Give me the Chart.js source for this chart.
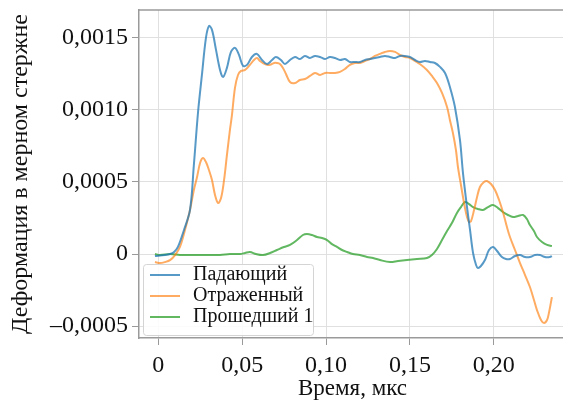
<!DOCTYPE html>
<html lang="ru">
<head>
<meta charset="UTF-8">
<title>Деформация в мерном стержне</title>
<style>
  html, body { margin: 0; padding: 0; background: #fff; overflow: hidden; }
  .grafico { width: 566px; height: 408px; }
</style>
</head>
<body>
<div class="grafico"><canvas id="grafico" width="566" height="408"></canvas></div>
<script src="https://cdn.jsdelivr.net/npm/chart.js"></script>
<script>
// Падающий
const tPad = [-0.0020, 0.0040, 0.0070, 0.0094, 0.0117, 0.0153, 0.0189, 0.0212, 0.0237, 0.0260, 0.0284, 0.0302, 0.0320, 0.0344, 0.0368, 0.0386, 0.0409, 0.0433, 0.0457, 0.0481, 0.0505, 0.0529, 0.0558, 0.0588, 0.0618, 0.0648, 0.0678, 0.0701, 0.0731, 0.0755, 0.0785, 0.0815, 0.0844, 0.0874, 0.0904, 0.0934, 0.0964, 0.0994, 0.1023, 0.1053, 0.1083, 0.1113, 0.1142, 0.1172, 0.1202, 0.1232, 0.1262, 0.1291, 0.1321, 0.1351, 0.1381, 0.1411, 0.1440, 0.1470, 0.1500, 0.1530, 0.1559, 0.1589, 0.1619, 0.1649, 0.1679, 0.1709, 0.1738, 0.1768, 0.1798, 0.1816, 0.1840, 0.1858, 0.1876, 0.1894, 0.1905, 0.1923, 0.1947, 0.1971, 0.1995, 0.2019, 0.2048, 0.2072, 0.2096, 0.2126, 0.2156, 0.2186, 0.2215, 0.2245, 0.2275, 0.2305, 0.2334, 0.2346];
const vPad = [-0.000014, -0.000007, 0, 0.000014, 0.000049, 0.000167, 0.000306, 0.000618, 0.000986, 0.001243, 0.0015, 0.001583, 0.001556, 0.001417, 0.001278, 0.001229, 0.001292, 0.001403, 0.001431, 0.001382, 0.001306, 0.001313, 0.001368, 0.001389, 0.001347, 0.001319, 0.001347, 0.001368, 0.001347, 0.001319, 0.001347, 0.001368, 0.001354, 0.001375, 0.001361, 0.001375, 0.001368, 0.001354, 0.001368, 0.001361, 0.001347, 0.001354, 0.001333, 0.001333, 0.001333, 0.001347, 0.001354, 0.001361, 0.001368, 0.001375, 0.001368, 0.001361, 0.001375, 0.001375, 0.001368, 0.001347, 0.001333, 0.00134, 0.001333, 0.001326, 0.001299, 0.001257, 0.00116, 0.001021, 0.000792, 0.000562, 0.000326, 0.000167, 0.000007, -0.000076, -0.000097, -0.000083, -0.000042, 0.000028, 0.000049, 0.000021, -0.000021, -0.000035, -0.000035, -0.000014, -0.000007, -0.000021, -0.000021, -0.000007, -0.000007, -0.000021, -0.000021, -0.000014];

// Отраженный
const tOtr = [-0.0020, 0.0010, 0.0040, 0.0070, 0.0100, 0.0129, 0.0159, 0.0189, 0.0212, 0.0231, 0.0249, 0.0266, 0.0284, 0.0302, 0.0320, 0.0338, 0.0356, 0.0374, 0.0392, 0.0409, 0.0427, 0.0439, 0.0457, 0.0475, 0.0493, 0.0517, 0.0546, 0.0570, 0.0588, 0.0606, 0.0624, 0.0648, 0.0666, 0.0690, 0.0707, 0.0725, 0.0743, 0.0761, 0.0785, 0.0815, 0.0844, 0.0874, 0.0904, 0.0934, 0.0964, 0.0994, 0.1023, 0.1053, 0.1083, 0.1113, 0.1142, 0.1172, 0.1202, 0.1232, 0.1262, 0.1291, 0.1321, 0.1351, 0.1381, 0.1411, 0.1440, 0.1470, 0.1500, 0.1530, 0.1559, 0.1601, 0.1631, 0.1661, 0.1691, 0.1721, 0.1738, 0.1756, 0.1774, 0.1786, 0.1804, 0.1816, 0.1828, 0.1840, 0.1852, 0.1864, 0.1882, 0.1900, 0.1917, 0.1941, 0.1959, 0.1983, 0.2007, 0.2031, 0.2054, 0.2078, 0.2096, 0.2126, 0.2156, 0.2186, 0.2215, 0.2239, 0.2257, 0.2281, 0.2299, 0.2317, 0.2328, 0.2346];
const vOtr = [-0.000056, -0.000063, -0.000056, -0.000042, -0.000007, 0.000049, 0.000167, 0.000306, 0.000444, 0.000535, 0.000632, 0.000667, 0.000639, 0.000583, 0.000514, 0.00041, 0.000354, 0.000389, 0.000514, 0.000687, 0.000861, 0.000965, 0.001153, 0.001243, 0.001271, 0.001278, 0.001313, 0.001347, 0.001361, 0.00134, 0.001326, 0.001313, 0.001313, 0.001326, 0.001326, 0.001319, 0.001292, 0.00125, 0.001194, 0.001187, 0.001208, 0.001215, 0.001236, 0.001257, 0.001243, 0.001257, 0.001257, 0.001257, 0.001264, 0.001285, 0.001313, 0.001326, 0.001326, 0.00134, 0.001354, 0.001375, 0.001389, 0.001403, 0.00141, 0.001403, 0.001382, 0.001368, 0.001361, 0.00134, 0.001319, 0.001278, 0.001236, 0.001187, 0.001118, 0.001021, 0.000931, 0.00084, 0.000722, 0.000604, 0.000479, 0.000396, 0.000319, 0.000257, 0.000222, 0.000229, 0.000306, 0.000396, 0.000465, 0.0005, 0.000507, 0.000486, 0.000444, 0.000375, 0.000292, 0.000187, 0.000118, 0.000028, -0.000063, -0.000146, -0.000229, -0.000319, -0.000389, -0.000458, -0.000479, -0.000458, -0.00041, -0.000299];

// Прошедший 1
const tPro = [-0.0020, 0.0010, 0.0070, 0.0129, 0.0189, 0.0249, 0.0308, 0.0368, 0.0427, 0.0487, 0.0517, 0.0546, 0.0582, 0.0624, 0.0666, 0.0707, 0.0749, 0.0785, 0.0827, 0.0862, 0.0886, 0.0916, 0.0946, 0.0976, 0.1006, 0.1035, 0.1065, 0.1095, 0.1125, 0.1160, 0.1202, 0.1244, 0.1280, 0.1321, 0.1381, 0.1429, 0.1482, 0.1542, 0.1601, 0.1631, 0.1661, 0.1691, 0.1721, 0.1750, 0.1780, 0.1804, 0.1828, 0.1852, 0.1876, 0.1905, 0.1935, 0.1965, 0.1995, 0.2025, 0.2054, 0.2084, 0.2114, 0.2144, 0.2174, 0.2197, 0.2215, 0.2239, 0.2257, 0.2287, 0.2317, 0.2346];
const vPro = [0, -0.000007, 0, -0.000007, -0.000007, -0.000007, -0.000007, -0.000007, 0, 0, 0.000007, 0.000014, 0, -0.000007, 0.000007, 0.000028, 0.000049, 0.000063, 0.000097, 0.000132, 0.000139, 0.000132, 0.000118, 0.000111, 0.000097, 0.000069, 0.000049, 0.000028, 0.000014, 0, -0.000007, -0.000021, -0.000028, -0.000042, -0.000056, -0.000049, -0.000042, -0.000035, -0.000028, -0.000007, 0.000035, 0.000097, 0.00016, 0.000215, 0.000285, 0.000326, 0.000361, 0.000347, 0.000326, 0.000313, 0.000306, 0.000326, 0.00034, 0.000319, 0.000292, 0.000271, 0.000257, 0.000264, 0.000271, 0.000243, 0.000201, 0.00016, 0.000118, 0.000083, 0.000063, 0.000056];

const seriesNames = ['Падающий', 'Отраженный', 'Прошедший 1'];
const xTicks = [0, 0.05, 0.10, 0.15, 0.20];
const xTickLabels = ['0', '0,05', '0,10', '0,15', '0,20'];
const yTicks = [-0.0005, 0, 0.0005, 0.0010, 0.0015];
const yTickLabels = ['\u20130,0005', '0', '0,0005', '0,0010', '0,0015'];

const fonte = '"Liberation Serif", "Times New Roman", serif';

function pontos(t, v) {
  return t.map((x, i) => ({ x: x, y: v[i] }));
}

// moldura superior
const moldura = {
  id: 'moldura',
  afterDraw(chart) {
    const a = chart.chartArea, ctx = chart.ctx;
    ctx.save();
    ctx.strokeStyle = '#9a9a9a';
    ctx.lineWidth = 1.5;
    ctx.beginPath();
    ctx.moveTo(a.left, a.top);
    ctx.lineTo(a.right, a.top);
    ctx.stroke();
    ctx.restore();
  }
};

// legenda dentro da area do grafico (canto inferior esquerdo)
const legendaDentro = {
  id: 'legendaDentro',
  afterDatasetsDraw(chart) {
    const a = chart.chartArea, ctx = chart.ctx;
    const x = a.left + 4, y = a.bottom - 74, w = 170, h = 71;
    ctx.save();
    ctx.fillStyle = 'rgba(255,255,255,0.85)';
    ctx.strokeStyle = '#d4d4d4';
    ctx.lineWidth = 1;
    ctx.beginPath();
    ctx.roundRect(x + 0.5, y + 0.5, w, h, 3);
    ctx.fill();
    ctx.stroke();
    ctx.font = '20px ' + fonte;
    ctx.textBaseline = 'middle';
    chart.data.datasets.forEach(function (ds, i) {
      const yy = y + 11 + i * 21;
      ctx.strokeStyle = ds.borderColor;
      ctx.lineWidth = 2;
      ctx.beginPath();
      ctx.moveTo(x + 7, yy);
      ctx.lineTo(x + 37, yy);
      ctx.stroke();
      ctx.fillStyle = '#111';
      ctx.fillText(ds.label, x + 50, yy);
    });
    ctx.restore();
  }
};

const ctx = document.getElementById('grafico');
new Chart(ctx, {
  type: 'line',
  data: {
    datasets: [
      { label: seriesNames[0], data: pontos(tPad, vPad), borderColor: 'rgba(31,119,180,0.75)' },
      { label: seriesNames[1], data: pontos(tOtr, vOtr), borderColor: 'rgba(255,127,14,0.65)' },
      { label: seriesNames[2], data: pontos(tPro, vPro), borderColor: 'rgba(44,160,44,0.75)' }
    ]
  },
  options: {
    responsive: false,
    animation: false,
    layout: { padding: { top: 10, left: 0, right: 0, bottom: 0 } },
    elements: {
      point: { radius: 0 },
      line: { borderWidth: 2, tension: 0.35 }
    },
    plugins: {
      legend: { display: false },
      tooltip: { enabled: false }
    },
    scales: {
      x: {
        type: 'linear',
        min: -0.0115,
        max: 0.243,
        afterFit: function (s) { s.height = 70; s.paddingLeft = 0; s.paddingRight = 0; },
        afterBuildTicks: function (s) { s.ticks = xTicks.map(v => ({ value: v })); },
        grid: { color: '#e0e0e0', tickColor: '#9a9a9a', tickLength: 7, lineWidth: 1 },
        border: { color: '#9a9a9a', width: 1.5 },
        ticks: {
          color: '#111',
          font: { family: fonte, size: 24 },
          padding: 6,
          maxRotation: 0,
          callback: function (v) { return xTickLabels[xTicks.indexOf(v)]; }
        },
        title: {
          display: true,
          text: 'Время, мкс',
          color: '#111',
          font: { family: fonte, size: 23 },
          padding: { top: 0, bottom: 5 }
        }
      },
      y: {
        min: -0.000583,
        max: 0.001694,
        afterFit: function (s) { s.width = 139; s.paddingTop = 0; s.paddingBottom = 0; },
        afterBuildTicks: function (s) { s.ticks = yTicks.map(v => ({ value: v })); },
        grid: { color: '#e0e0e0', tickColor: '#9a9a9a', tickLength: 7, lineWidth: 1 },
        border: { color: '#9a9a9a', width: 1.5 },
        ticks: {
          color: '#111',
          font: { family: fonte, size: 24 },
          padding: 4,
          callback: function (v) { return yTickLabels[yTicks.indexOf(v)]; }
        },
        title: {
          display: true,
          text: 'Деформация в мерном стержне',
          color: '#111',
          font: { family: fonte, size: 24 },
          padding: { top: 6, bottom: 0 }
        }
      }
    }
  },
  plugins: [moldura, legendaDentro]
});
</script>
</body>
</html>
